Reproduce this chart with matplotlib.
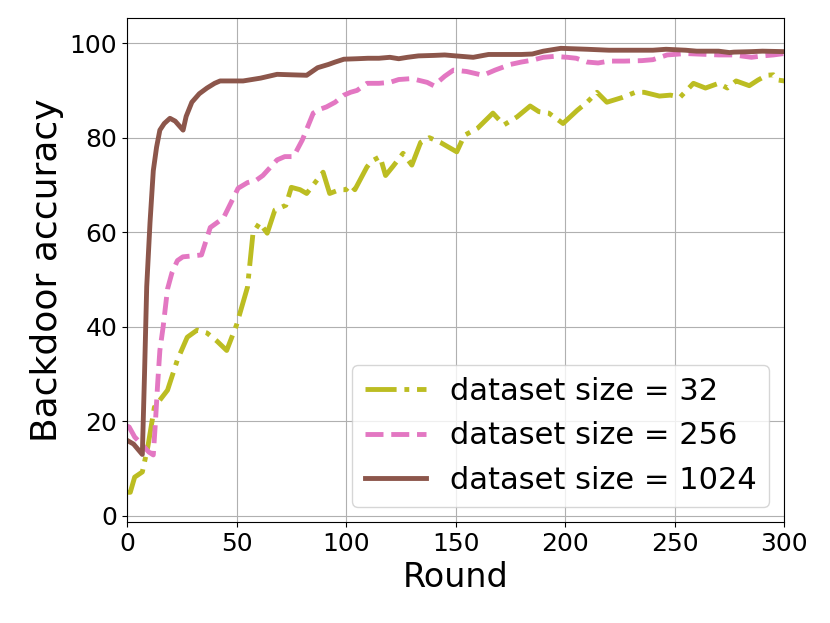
import matplotlib
matplotlib.use("Agg")
import matplotlib.pyplot as plt

# dataset size = 32
rounds_32 = [0, 1.5, 3.5, 7, 9.5, 12.5, 15, 18.5, 23, 27.5, 32, 36.5, 41, 45.5, 50, 55, 57.5,
             60.5, 64, 67.5, 72.5, 75, 79, 82, 85.5, 89.5, 92.5, 97, 100, 102, 104, 109.5,
             111.5, 115.5, 118, 121.5, 126, 130, 134, 138, 143, 150.5, 154, 160, 167, 172,
             178, 184, 188, 192.5, 199, 205.5, 210, 214.5, 219, 226, 232, 236, 243, 248,
             252.5, 258.5, 264, 270, 274, 278, 284, 288, 292, 295, 297, 300]
acc_32 = [5, 5, 8.2, 9.3, 14.6, 23, 24.5, 26.6, 33, 37.8, 39.3, 38.7, 37, 35, 40.4, 48.4, 59.8,
          62, 59.8, 64.7, 65.7, 69.5, 69, 68.2, 70.3, 72.7, 68.2, 69, 69, 70, 69, 73.8,
          75, 76, 72, 74, 76.7, 74.2, 79, 80, 79, 77, 80.5, 82, 85.2, 82.7,
          84.4, 86.7, 85.5, 85.2, 83, 85.8, 87.5, 89.6, 87.5, 88.5, 89.6, 89.6, 88.8, 89,
          88.6, 91.5, 90.5, 91.5, 90.5, 92, 91, 92.2, 93.2, 93.3, 92.2, 92]

# dataset size = 256
rounds_256 = [0, 1, 3.5, 7, 10, 12, 13, 14, 15, 16.5, 18.5, 20.5, 23, 25.5, 30, 34, 38, 44,
              50.7, 55, 59, 62, 68.5, 72, 76, 80, 85, 88, 91, 95, 99, 102, 105, 109.5, 115,
              120, 124, 130, 137, 140, 145, 149, 155, 162.5, 168, 175, 180, 185, 190, 195,
              201, 205, 210, 215, 220, 227, 235, 240, 246.5, 255, 260, 265, 270, 277, 285,
              290, 295, 300]
acc_256 = [19, 18.8, 16.7, 15, 13.5, 12.9, 20, 28, 35, 40, 48, 51.4, 54, 54.8, 55, 55.2, 61, 63,
           69.3, 70.5, 71, 72, 75.3, 76, 76, 79.5, 85.2, 86, 86.5, 87.5, 89, 89.6, 90, 91.5, 91.5,
           91.7, 92.3, 92.5, 91.7, 91, 93, 94.3, 94, 93.2, 94.3, 95.5, 96, 96.4, 97, 97.2,
           97, 96.8, 96, 95.8, 96.2, 96.2, 96.3, 96.5, 97.5, 97.8, 97.7, 97.6, 97.5, 97.5, 97,
           97.3, 97.5, 97.8]

# dataset size = 1024
rounds_1024 = [0, 3, 7, 8, 9, 10.5, 12, 13.5, 15, 17, 19.6, 22, 25.6, 27, 29.6, 33, 36.5, 40,
               42.5, 53, 61, 68.5, 75, 82, 87, 92, 95, 99, 105, 110, 115, 120, 124, 128, 133,
               140, 145, 150, 158, 165, 170, 175, 180, 185, 190, 198, 210, 220, 230, 240, 246,
               255, 260, 270, 275, 277, 285, 290, 300]
acc_1024 = [16, 15.2, 13, 30, 48.5, 62, 73, 78, 81.6, 83, 84.1, 83.5, 81.6, 84.5, 87.5, 89.3,
            90.5, 91.5, 92, 92, 92.6, 93.4, 93.3, 93.2, 94.8, 95.5, 96, 96.6, 96.7, 96.8, 96.8,
            97, 96.7, 97, 97.3, 97.4, 97.5, 97.3, 97, 97.6, 97.6, 97.6, 97.6, 97.7, 98.3, 98.9,
            98.7, 98.5, 98.5, 98.5, 98.7, 98.5, 98.3, 98.3, 98.0, 98.1, 98.2, 98.3, 98.2]

fig, ax = plt.subplots(figsize=(8.3, 6.23), dpi=100)
ax.plot(rounds_32, acc_32, linestyle="-.", color="tab:olive", linewidth=3.5,
        label="dataset size = 32")
ax.plot(rounds_256, acc_256, linestyle="--", color="tab:pink", linewidth=3.5,
        label="dataset size = 256")
ax.plot(rounds_1024, acc_1024, linestyle="-", color="tab:brown", linewidth=3.5,
        label="dataset size = 1024")

ax.set_xlim(0, 300)
ax.set_ylim(-1.3, 105.3)
ax.set_xticks([0, 50, 100, 150, 200, 250, 300])
ax.set_yticks([0, 20, 40, 60, 80, 100])
ax.tick_params(labelsize=18)
ax.set_xlabel("Round", fontsize=24)
ax.set_ylabel("Backdoor accuracy", fontsize=26)
ax.grid(True)
ax.legend(loc="lower right", fontsize=22)

fig.subplots_adjust(left=0.153, right=0.945, top=0.971, bottom=0.162)
fig.savefig("out.png", dpi=100)
